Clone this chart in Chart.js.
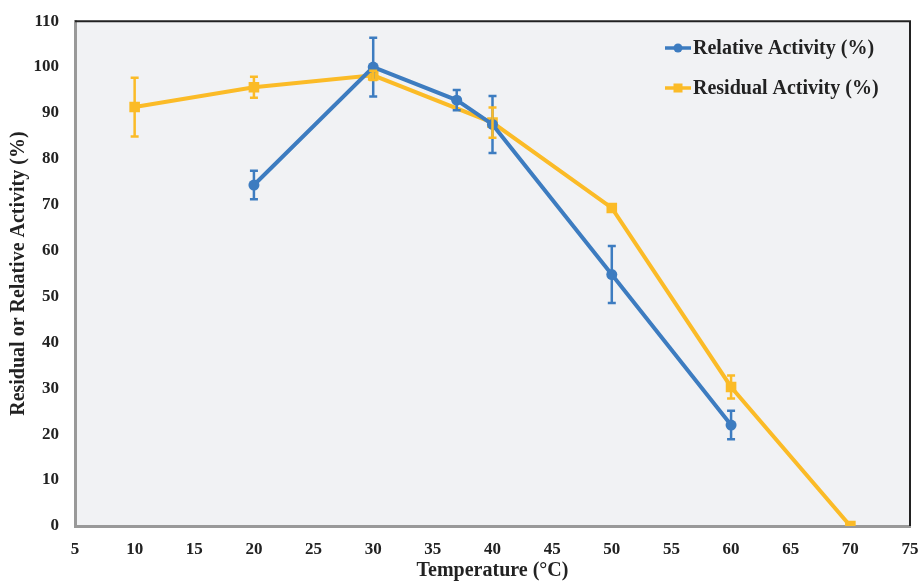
<!DOCTYPE html>
<html><head><meta charset="utf-8">
<script src="https://cdn.jsdelivr.net/npm/chart.js@4"></script>
<style>html,body{margin:0;padding:0;background:#fff}#wrap{width:921px;height:583px}</style>
</head><body><div id="wrap"><canvas id="c" width="921" height="583"></canvas></div>
<script>
const relTemps = [20, 30, 37, 40, 50, 60];
const relValues = [74.3, 100, 92.8, 87.5, 54.8, 22.0];
const relErrors = [3.1, 6.4, 2.2, 6.2, 6.2, 3.1];
const resTemps = [10, 20, 30, 40, 50, 60, 70];
const resValues = [91.3, 95.6, 98.2, 87.9, 69.3, 30.3, 0];
const resErrors = [6.4, 2.3, 1.0, 3.3, 0.8, 2.5, 0];
const xTicks = [5, 10, 15, 20, 25, 30, 35, 40, 45, 50, 55, 60, 65, 70, 75];
const yTicks = [0, 10, 20, 30, 40, 50, 60, 70, 80, 90, 100, 110];
const seriesNames = ['Relative Activity (%)', 'Residual Activity (%)'];
const BLUE = '#3d7cc0', YELLOW = '#fbbb27';

const relData = relTemps.map((t, i) => ({x: t, y: relValues[i], e: relErrors[i]}));
const resData = resTemps.map((t, i) => ({x: t, y: resValues[i], e: resErrors[i]}));

const FONT = '"Liberation Serif", "Times New Roman", serif';

const bgPlugin = {
  id: 'bg',
  beforeDraw(chart) {
    const {ctx, chartArea: a} = chart;
    ctx.save();
    ctx.fillStyle = '#f1f2f4';
    ctx.fillRect(a.left, a.top, a.right - a.left, a.bottom - a.top);
    ctx.restore();
  },
  afterDatasetsDraw(chart) {
    const {ctx, chartArea: a} = chart;
    ctx.save();
    ctx.strokeStyle = '#222';
    ctx.lineWidth = 2;
    ctx.beginPath();
    ctx.moveTo(a.left, a.top); ctx.lineTo(a.right, a.top); ctx.lineTo(a.right, a.bottom);
    ctx.stroke();
    ctx.restore();
  }
};

const errPlugin = {
  id: 'err',
  afterDatasetsDraw(chart) {
    const {ctx} = chart;
    const xs = chart.scales.x, ys = chart.scales.y;
    ctx.save();
    chart.data.datasets.forEach(ds => {
      ctx.strokeStyle = ds.borderColor;
      ctx.lineWidth = 2.5;
      ds.data.forEach(p => {
        if (!p.e) return;
        const x = xs.getPixelForValue(p.x);
        const y1 = ys.getPixelForValue(p.y + p.e);
        const y2 = ys.getPixelForValue(p.y - p.e);
        ctx.beginPath();
        ctx.moveTo(x, y1); ctx.lineTo(x, y2);
        ctx.moveTo(x - 4, y1); ctx.lineTo(x + 4, y1);
        ctx.moveTo(x - 4, y2); ctx.lineTo(x + 4, y2);
        ctx.stroke();
      });
    });
    ctx.restore();
  }
};

const legendPlugin = {
  id: 'myLegend',
  afterDraw(chart) {
    const {ctx} = chart;
    ctx.save();
    ctx.font = 'bold 20px ' + FONT;
    ctx.textBaseline = 'middle';
    const rows = [{y: 48, c: BLUE, s: 'circle'}, {y: 88, c: YELLOW, s: 'rect'}];
    rows.forEach((r, i) => {
      ctx.strokeStyle = r.c; ctx.fillStyle = r.c; ctx.lineWidth = 3.5;
      ctx.beginPath(); ctx.moveTo(665, r.y); ctx.lineTo(691, r.y); ctx.stroke();
      ctx.beginPath();
      if (r.s === 'circle') ctx.arc(678, r.y, 4.5, 0, Math.PI * 2); else ctx.rect(673.5, r.y - 4.5, 9, 9);
      ctx.fill();
      ctx.fillStyle = '#222';
      ctx.fillText(seriesNames[i], 693, r.y + 1);
    });
    ctx.restore();
  }
};

new Chart(document.getElementById('c'), {
  type: 'scatter',
  data: {
    datasets: [
      {label: seriesNames[0], data: relData, showLine: true, borderColor: BLUE, backgroundColor: BLUE,
       borderWidth: 4, pointRadius: 5.5, pointStyle: 'circle', pointBorderWidth: 0, tension: 0},
      {label: seriesNames[1], data: resData, showLine: true, borderColor: YELLOW, backgroundColor: YELLOW,
       borderWidth: 4, pointRadius: 7.5, pointStyle: 'rect', pointBorderWidth: 0, tension: 0}
    ]
  },
  options: {
    responsive: false,
    animation: false,
    layout: {padding: {left: 7, right: 11, top: 21, bottom: 0}},
    plugins: {legend: {display: false}, tooltip: {enabled: false}},
    scales: {
      x: {
        type: 'linear', min: 5, max: 75,
        afterBuildTicks: s => { s.ticks = xTicks.map(v => ({value: v})); },
        afterFit: s => { s.height = 57; s.paddingLeft = 0; s.paddingRight = 0; },
        grid: {display: false, drawTicks: true, tickLength: 5, color: '#999'},
        border: {color: '#999', width: 3},
        ticks: {color: '#222', font: {family: FONT, size: 17, weight: 'bold'}, padding: 8, maxRotation: 0},
        title: {display: true, text: 'Temperature (°C)', color: '#222', font: {family: FONT, size: 20, weight: 'bold'}, padding: {top: 4, bottom: 0}}
      },
      y: {
        type: 'linear', min: 0, max: 110,
        afterBuildTicks: s => { s.ticks = yTicks.map(v => ({value: v})); },
        afterFit: s => { s.width = 68; },
        grid: {display: false, drawTicks: true, tickLength: 5, color: '#999'},
        border: {color: '#999', width: 3},
        ticks: {color: '#222', font: {family: FONT, size: 17, weight: 'bold'}, padding: 11},
        title: {display: true, text: 'Residual or Relative Activity (%)', color: '#222', font: {family: FONT, size: 20, weight: 'bold'}, padding: {top: 0, bottom: 4}}
      }
    }
  },
  plugins: [bgPlugin, errPlugin, legendPlugin]
});
</script>
</body></html>
